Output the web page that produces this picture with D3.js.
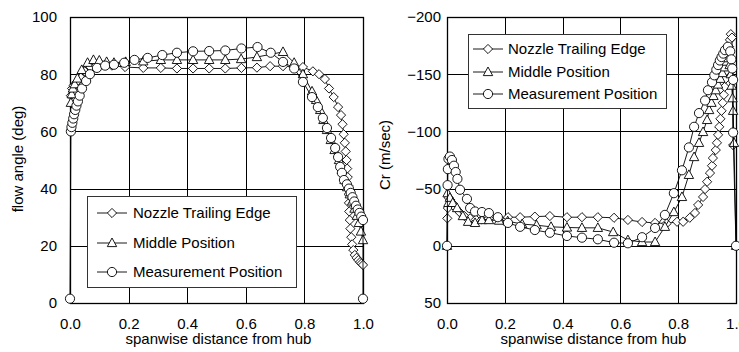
<!DOCTYPE html>
<html><head><meta charset="utf-8">
<script src="https://cdn.jsdelivr.net/npm/d3@7/dist/d3.min.js"></script>
<style>body{margin:0;background:#fff}svg{display:block}text{font-family:"Liberation Sans",Arial,sans-serif;fill:#000}</style>
</head><body><svg id="c" width="739" height="352"></svg>
<script>
// ---------- data ----------
const seriesNames = ["Nozzle Trailing Edge", "Middle Position", "Measurement Position"];
const xTicks = [0, 0.2, 0.4, 0.6, 0.8, 1.0];
const angleTicks = [0, 20, 40, 60, 80, 100];
const crTicks = [-200, -150, -100, -50, 0, 50];

// Left: flow angle (deg)
const nozzleAngleX = [0.003,0.007,0.012,0.018,0.025,0.035,0.05,0.07,0.1,0.143,0.188,0.25,0.31,0.365,0.42,0.475,0.53,0.585,0.638,0.683,0.727,0.765,0.795,0.829,0.85,0.87,0.884,0.9,0.915,0.925,0.93,0.934,0.938,0.941,0.944,0.946,0.948,0.95,0.951,0.952,0.953,0.955,0.957,0.96,0.963,0.967,0.972,0.978,0.984,0.99,0.995,1.0];
const nozzleAngleY = [72.5,75,76,76.5,77.5,79,81,82.5,83,83,82.5,82.2,82.2,82,82,82,82,82.2,82.3,82.8,82.8,82.5,82.5,81,80,78.3,75,72,68.5,65.7,62.5,59,56,53,50,47,44,41,38,35,32,29,26,23,20.5,18.5,16.8,15.8,15,14.3,13.8,13.3];
const middleAngleX = [0.003,0.006,0.01,0.016,0.025,0.04,0.06,0.08,0.1,0.125,0.15,0.19,0.25,0.31,0.365,0.42,0.475,0.53,0.584,0.638,0.727,0.765,0.795,0.826,0.84,0.854,0.865,0.877,0.89,0.903,0.918,0.928,0.937,0.946,0.955,0.963,0.971,0.979,0.986,0.993,1.0];
const middleAngleY = [70,73,75,76.5,78.5,81.5,84,85,84.8,84.3,84,84.3,84.5,85,85,85,85,85,85.3,86,87.8,84,80,74,71,67.5,64,60.5,57,53.5,50,46.5,43,40.5,38,35.5,33,30.5,28,25,22];
const measAngleX = [0,0.003,0.005,0.008,0.011,0.014,0.018,0.022,0.027,0.033,0.041,0.055,0.068,0.092,0.12,0.15,0.185,0.22,0.265,0.315,0.365,0.42,0.475,0.53,0.585,0.64,0.685,0.727,0.765,0.795,0.826,0.846,0.863,0.877,0.891,0.905,0.915,0.922,0.928,0.935,0.945,0.952,0.958,0.964,0.97,0.976,0.982,0.988,0.994,1.0,1.0];
const measAngleY = [1.5,60,61.5,63,64.5,66,67.5,69,70.5,72.5,75,77.6,80,82.2,83,83.3,84,85,85.7,86.7,87.5,88,88.1,88.3,89,89.5,87.5,84.3,82,77.3,72,68.5,64.7,61.2,57.7,54.2,51,47.6,45.5,43,41.5,40,38.5,37,35.5,34,32.7,31.5,30.2,29,1.5];

// Right: Cr (m/sec)
const nozzleCrX = [0.001,0.003,0.006,0.012,0.02,0.03,0.045,0.06,0.08,0.1,0.121,0.145,0.18,0.211,0.253,0.304,0.356,0.415,0.467,0.522,0.578,0.626,0.675,0.72,0.76,0.796,0.817,0.84,0.858,0.869,0.886,0.893,0.9,0.91,0.917,0.92,0.93,0.934,0.938,0.942,0.946,0.95,0.954,0.958,0.961,0.964,0.967,0.97,0.973,0.976,0.979,0.982,0.986,0.99];
const nozzleCrY = [-24,-33,-42,-40,-37,-33,-29,-26,-24,-23,-23,-24,-24,-25,-25,-25.5,-26,-25,-25,-25,-24.5,-22.6,-20.8,-20,-19.5,-21,-21,-24.5,-28.7,-35.7,-42.7,-49.6,-56,-63.6,-70,-76.7,-83.7,-90,-97,-104,-111,-118,-125,-132,-139,-146,-153,-160,-167,-174,-180,-185,-182,-88];
const middleCrX = [0,0.002,0.005,0.01,0.02,0.035,0.055,0.073,0.097,0.121,0.145,0.18,0.21,0.26,0.31,0.36,0.415,0.467,0.522,0.575,0.626,0.675,0.72,0.754,0.785,0.813,0.837,0.855,0.872,0.886,0.9,0.907,0.915,0.922,0.93,0.938,0.946,0.953,0.96,0.967,0.972,0.978,0.982,0.985,0.988,0.99,0.993,1.0];
const middleCrY = [0,-46,-37.5,-42,-37.5,-33,-26,-21,-20,-22.5,-22.5,-22,-21.5,-19,-18,-16.6,-16,-15.7,-15.7,-12,-5,-3.3,-3.3,-16.6,-29.5,-42.7,-62,-77.6,-90,-99.5,-110,-118.7,-125,-131,-136,-141,-146,-151,-156,-161,-164,-158,-150,-140,-129,-118,-90,0];
const measCrX = [0,0.002,0.003,0.005,0.01,0.017,0.024,0.03,0.036,0.045,0.069,0.08,0.097,0.121,0.145,0.176,0.211,0.253,0.304,0.356,0.415,0.467,0.522,0.578,0.626,0.675,0.72,0.754,0.785,0.813,0.837,0.855,0.872,0.893,0.903,0.917,0.925,0.932,0.938,0.944,0.95,0.956,0.962,0.972,0.98,0.984,0.987,0.99,0.99,1.0];
const measCrY = [0,-53,-67,-76,-78,-75,-70,-64.5,-58.5,-49,-41,-33,-30,-29.5,-28.6,-25,-20,-16.6,-13.8,-11.4,-8.6,-7.1,-5.7,-2.7,-2.2,-7.5,-15.6,-27,-46,-66,-86,-104,-116,-127,-136,-143,-149,-154,-158,-162,-165,-168,-171,-174,-170,-163,-155,-145,-99,0];

// ---------- drawing ----------
const svg = d3.select("#c");
const zip = (xs, ys) => xs.map((x, i) => [x, ys[i]]);
const markerPath = {
  diamond: "M0,-4.6L4.6,0L0,4.6L-4.6,0Z",
  triangle: "M0,-5L4.7,3.6L-4.7,3.6Z",
  circle: d3.symbol(d3.symbolCircle, Math.PI * 4.6 * 4.6)()
};
const kinds = ["diamond", "triangle", "circle"];

function drawMarker(g, kind, x, y) {
  g.append("path").attr("d", markerPath[kind])
    .attr("transform", `translate(${x},${y})`)
    .attr("fill", "#fff").attr("stroke", "#000").attr("stroke-width", 0.9);
}

function panel(cfg) {
  const x = d3.scaleLinear().domain([0, 1]).range(cfg.xr);
  const y = d3.scaleLinear().domain(cfg.yd).range(cfg.yr);
  const g = svg.append("g");
  const top = Math.min(...cfg.yr), bot = Math.max(...cfg.yr);

  // grid
  g.append("g").selectAll("line").data(xTicks.slice(1, -1)).join("line")
    .attr("x1", d => Math.round(x(d)) + 0.5).attr("x2", d => Math.round(x(d)) + 0.5)
    .attr("y1", top).attr("y2", bot).attr("stroke", "#000").attr("stroke-width", 1);
  g.append("g").selectAll("line").data(cfg.yTicks.slice(1, -1)).join("line")
    .attr("y1", d => Math.round(y(d)) + 0.5).attr("y2", d => Math.round(y(d)) + 0.5)
    .attr("x1", cfg.xr[0]).attr("x2", cfg.xr[1]).attr("stroke", "#000").attr("stroke-width", 1);

  // frame
  g.append("rect").attr("x", cfg.xr[0] + 0.5).attr("y", top + 0.5)
    .attr("width", cfg.xr[1] - cfg.xr[0]).attr("height", bot - top)
    .attr("fill", "none").attr("stroke", "#000").attr("stroke-width", 1.3);

  // axes
  const ax = g.append("g").attr("transform", `translate(0,${bot})`)
    .call(d3.axisBottom(x).tickValues(xTicks).tickFormat(d3.format(".1f")).tickSize(0).tickPadding(15));
  const ay = g.append("g").attr("transform", `translate(${cfg.xr[0]},0)`)
    .call(d3.axisLeft(y).tickValues(cfg.yTicks).tickFormat(cfg.fmt).tickSize(0).tickPadding(cfg.pad));
  [ax, ay].forEach(a => {
    a.select(".domain").remove();
    a.selectAll("text").attr("font-size", 15).attr("font-family", '"Liberation Sans", Arial, sans-serif').attr("fill", "#000");
  });

  g.append("text").attr("x", (cfg.xr[0] + cfg.xr[1]) / 2 + 2).attr("y", 344)
    .attr("text-anchor", "middle").attr("font-size", 15).text("spanwise distance from hub");
  g.append("text").attr("transform", `translate(${cfg.tx},${cfg.ty}) rotate(-90)`)
    .attr("dy", "0.35em").attr("text-anchor", "middle").attr("font-size", 15).text(cfg.title);

  // series
  const line = d3.line().x(d => x(d[0])).y(d => y(d[1]));
  cfg.series.forEach((s, i) => {
    const pts = zip(s[0], s[1]);
    g.append("path").attr("d", line(pts)).attr("fill", "none").attr("stroke", "#000").attr("stroke-width", 0.9);
    const mg = g.append("g");
    pts.forEach(p => drawMarker(mg, kinds[i], x(p[0]), y(p[1])));
  });

  // legend
  const L = cfg.legend;
  const lg = g.append("g");
  lg.append("rect").attr("x", L.x + 0.5).attr("y", L.y + 0.5).attr("width", L.w).attr("height", L.h)
    .attr("fill", "#fff").attr("stroke", "#333").attr("stroke-width", 1);
  seriesNames.forEach((name, i) => {
    const ry = L.rows[i];
    lg.append("line").attr("x1", L.lx).attr("x2", L.lx + 30).attr("y1", ry).attr("y2", ry)
      .attr("stroke", "#000").attr("stroke-width", 0.9);
    drawMarker(lg, kinds[i], L.lx + 15, ry);
    lg.append("text").attr("x", L.tx).attr("y", ry).attr("dy", "0.35em")
      .attr("font-size", 15).text(name);
  });
}

panel({
  xr: [70, 363], yd: [0, 100], yr: [303, 17], yTicks: angleTicks,
  fmt: d => d, pad: 13, title: "flow angle (deg)", tx: 18, ty: 159,
  series: [[nozzleAngleX, nozzleAngleY], [middleAngleX, middleAngleY], [measAngleX, measAngleY]],
  legend: { x: 87, y: 196, w: 209, h: 91, rows: [213, 243, 272], lx: 97, tx: 133 }
});
panel({
  xr: [447, 736], yd: [-200, 50], yr: [17, 303], yTicks: crTicks,
  fmt: d => d < 0 ? "\u2212" + Math.abs(d) : d, pad: 6, title: "Cr (m/sec)", tx: 385, ty: 155,
  series: [[nozzleCrX, nozzleCrY], [middleCrX, middleCrY], [measCrX, measCrY]],
  legend: { x: 468, y: 34, w: 198, h: 74, rows: [49, 72, 94], lx: 473, tx: 508 }
});
</script>
</body></html>
